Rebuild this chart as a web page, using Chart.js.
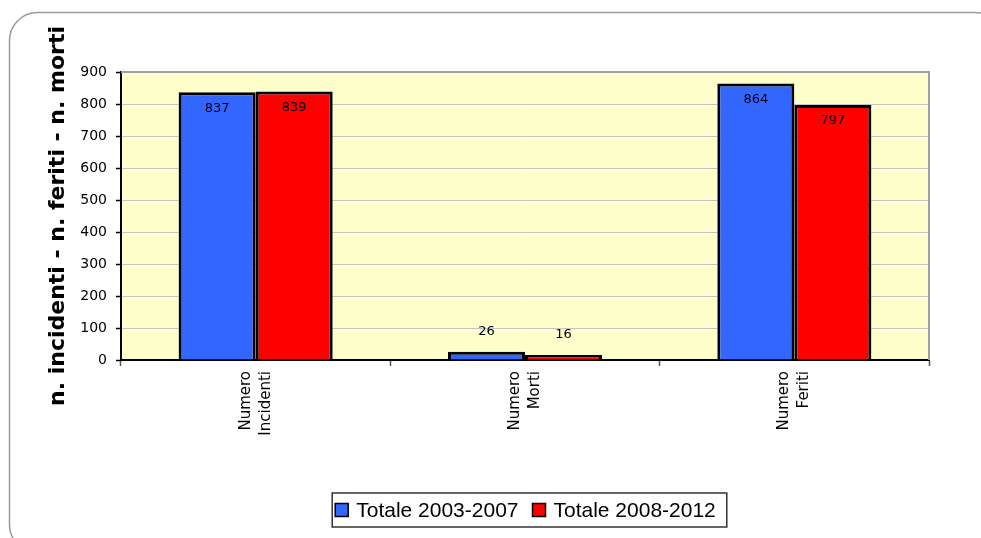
<!DOCTYPE html>
<html>
<head>
<meta charset="utf-8">
<title>Incidenti, morti e feriti</title>
<script src="https://cdn.jsdelivr.net/npm/chart.js@4/dist/chart.umd.min.js"></script>
<style>
  html, body { margin: 0; padding: 0; background: #ffffff; }
  canvas { display: block; }
</style>
</head>
<body>
<canvas id="c" width="981" height="538"></canvas>
<script>
// Categories (two-line labels) and the two period totals
const categories = [["Numero", "Incidenti"], ["Numero", "Morti"], ["Numero", "Feriti"]];
const seriesNames = ["Totale 2003-2007", "Totale 2008-2012"];
const totale2003_2007 = [837, 26, 864];
const totale2008_2012 = [839, 16, 797];
const yTicks = [0, 100, 200, 300, 400, 500, 600, 700, 800, 900];
const yTitle = "n. incidenti - n. feriti - n. morti";

const seriesColors = ["#3366FF", "#FF0000"];
const tickFont = "'DejaVu Sans', Verdana, sans-serif";
const legendFontFamily = "'Liberation Sans', Arial, sans-serif";

// Rounded outer frame and pale yellow plot background
const backdrop = {
  id: 'backdrop',
  beforeDraw(chart) {
    const { ctx, chartArea: a } = chart;
    ctx.save();
    ctx.fillStyle = '#ffffff';
    ctx.fillRect(0, 0, chart.width, chart.height);
    ctx.strokeStyle = '#9a9a9a';
    ctx.lineWidth = 1.5;
    ctx.beginPath();
    ctx.roundRect(9.5, 12.5, 994, 540, 28);
    ctx.stroke();
    ctx.fillStyle = '#FFFFCC';
    ctx.fillRect(a.left, a.top, a.right - a.left, a.bottom - a.top);
    ctx.restore();
  },
  afterDraw(chart) {
    const { ctx, chartArea: a } = chart;
    ctx.save();
    ctx.strokeStyle = '#a0a0a0';
    ctx.lineWidth = 2;
    ctx.beginPath();
    ctx.moveTo(a.left, a.top);
    ctx.lineTo(a.right, a.top);
    ctx.lineTo(a.right, a.bottom);
    ctx.stroke();
    ctx.restore();
  }
};

// Value labels: inside the top of tall bars, above short ones
const valueLabels = {
  id: 'valueLabels',
  afterDatasetsDraw(chart) {
    const { ctx } = chart;
    const base = chart.scales.y.getPixelForValue(0);
    ctx.save();
    ctx.font = "13px " + tickFont;
    ctx.fillStyle = '#000011';
    ctx.textAlign = 'center';
    ctx.textBaseline = 'middle';
    chart.data.datasets.forEach((ds, i) => {
      chart.getDatasetMeta(i).data.forEach((bar, j) => {
        const h = base - bar.y;
        const y = h > 40 ? bar.y + 16 : bar.y - 20;
        ctx.fillText(String(ds.data[j]), bar.x, y);
      });
    });
    ctx.restore();
  }
};

// Boxed legend below the axis labels
const boxedLegend = {
  id: 'boxedLegend',
  afterDraw(chart) {
    const { ctx, chartArea: a } = chart;
    ctx.save();
    ctx.font = "21px " + legendFontFamily;
    const box = 13, gapText = 8, gapItem = 14;
    const items = chart.data.datasets.map(ds => ({
      label: ds.label, color: ds.backgroundColor, w: ctx.measureText(ds.label).width
    }));
    let total = 0;
    items.forEach((it, i) => { total += box + gapText + it.w + (i ? gapItem : 0); });
    const padL = 3, padR = 11;
    const cx = (a.left + a.right) / 2 + 4.5;
    const left = cx - (total + padL + padR) / 2;
    const top = 493, height = 34, cy = top + height / 2;
    ctx.strokeStyle = '#333333';
    ctx.lineWidth = 1.5;
    ctx.strokeRect(left, top, total + padL + padR, height);
    let x = left + padL;
    ctx.textBaseline = 'middle';
    ctx.textAlign = 'left';
    items.forEach((it, i) => {
      if (i) x += gapItem;
      ctx.fillStyle = it.color;
      ctx.fillRect(x, cy - box / 2, box, box);
      ctx.strokeStyle = '#000000';
      ctx.lineWidth = 1.5;
      ctx.strokeRect(x, cy - box / 2, box, box);
      x += box + gapText;
      ctx.fillStyle = '#000000';
      ctx.fillText(it.label, x, cy + 1);
      x += it.w;
    });
    ctx.restore();
  }
};

new Chart(document.getElementById('c'), {
  type: 'bar',
  data: {
    labels: categories,
    datasets: [
      { label: seriesNames[0], data: totale2003_2007, backgroundColor: seriesColors[0],
        borderColor: '#000000', borderWidth: 3, borderSkipped: 'bottom',
        categoryPercentage: 0.572, barPercentage: 1.0 },
      { label: seriesNames[1], data: totale2008_2012, backgroundColor: seriesColors[1],
        borderColor: '#000000', borderWidth: 3, borderSkipped: 'bottom',
        categoryPercentage: 0.572, barPercentage: 1.0 }
    ]
  },
  options: {
    responsive: false,
    animation: false,
    devicePixelRatio: 1,
    layout: { padding: { top: 72, right: 52, left: 0, bottom: 0 } },
    plugins: {
      legend: { display: false },
      tooltip: { enabled: false }
    },
    scales: {
      x: {
        type: 'category',
        offset: true,
        afterFit(scale) { scale.height = 178; },
        grid: { offset: true, drawOnChartArea: false, drawTicks: true, tickLength: 6, tickColor: '#555555', tickWidth: 1.5 },
        border: { color: '#000000', width: 2 },
        ticks: {
          maxRotation: 90, minRotation: 90, padding: 5, color: '#000000',
          labelOffset: -10,
          font: { family: tickFont, size: 15, lineHeight: 1.35 }
        }
      },
      y: {
        min: 0, max: 900,
        afterFit(scale) { scale.width = 121; },
        afterBuildTicks(scale) { scale.ticks = yTicks.map(v => ({ value: v })); },
        grid: { color: '#c4c4c4', lineWidth: 1, tickColor: '#000000', tickLength: 5, tickWidth: 1.5 },
        border: { color: '#000000', width: 2 },
        ticks: {
          padding: 9, color: '#000000',
          font: { family: tickFont, size: 14 }
        },
        title: {
          display: true, text: yTitle, color: '#000000',
          padding: { top: 45, bottom: 0 },
          font: { family: tickFont, size: 22, weight: 'bold' }
        }
      }
    }
  },
  plugins: [backdrop, valueLabels, boxedLegend]
});
</script>
</body>
</html>
